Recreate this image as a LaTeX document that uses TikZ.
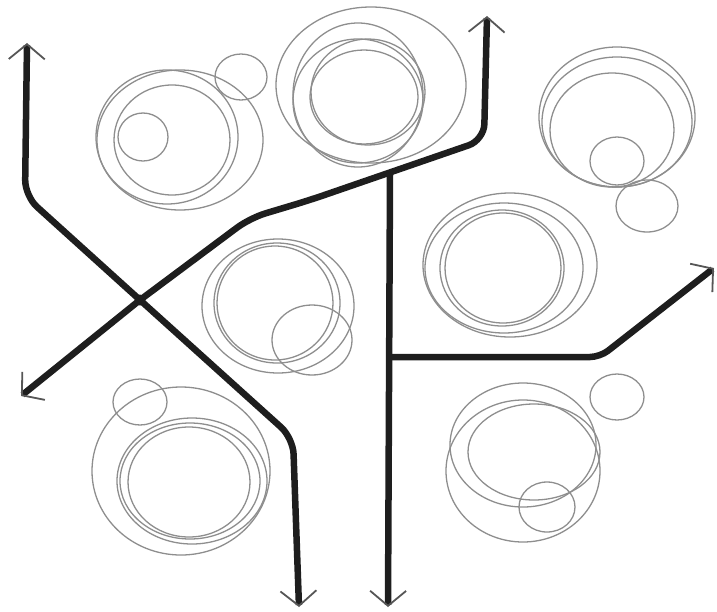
\documentclass[tikz,border=0pt]{standalone}
\usetikzlibrary{arrows.meta}
\definecolor{ink}{HTML}{1E1E1E}
\definecolor{ring}{HTML}{8E8E8E}
\begin{document}
\begin{tikzpicture}[x=1pt,y=-1pt,
  road/.style={draw=ink,line width=6.5pt,rounded corners=16pt,line cap=butt},
  tipped/.style={-{Straight Barb[length=15pt,width=36pt,line width=1.8pt,color=ink!75]}},
  ringc/.style={draw=ring,line width=1.3pt}]
\useasboundingbox (0,0) rectangle (717,611);
% coordinates
\coordinate (tl) at (27,43);
\coordinate (a1) at (25,196);
\coordinate (J) at (140,300);
\coordinate (a2) at (293,438);
\coordinate (bl) at (299,607);
\coordinate (ll) at (21,396);
\coordinate (b1) at (250,218);
\coordinate (b2) at (310,200);
\coordinate (b3) at (484,140);
\coordinate (tm) at (487,16);
\coordinate (c0) at (390,174);
\coordinate (cb) at (390,357);
\coordinate (br) at (388,607);
\coordinate (c1) at (600,357);
\coordinate (rr) at (714,268);
% roads
\draw[road,tipped] (J) -- (a1) -- (tl);
\draw[road,tipped] (J) -- (a2) -- (bl);
\draw[road,tipped] (J) -- (ll);
\draw[road,tipped] (J) -- (b1) -- (b2) -- (b3) -- (tm);
\draw[road,tipped,rounded corners=0pt] (c0) -- (br);
\draw[road,tipped,rounded corners=10pt] (cb) -- (c1) -- (rr);
\fill[ink] (J) circle (5.5pt);
% cluster top-left
\draw[ringc] (143,137) ellipse [x radius=25,y radius=24];
\draw[ringc] (167,137) ellipse [x radius=71,y radius=67];
\draw[ringc] (180,140) ellipse [x radius=83,y radius=70];
\draw[ringc] (172,140) ellipse [x radius=58,y radius=55];
\draw[ringc] (241,77) ellipse [x radius=26,y radius=23];
% cluster top-middle
\draw[ringc] (371,85) ellipse [x radius=95,y radius=78];
\draw[ringc] (358,95) ellipse [x radius=65,y radius=72];
\draw[ringc] (358,101) ellipse [x radius=65,y radius=62];
\draw[ringc] (368,92) ellipse [x radius=57,y radius=53];
\draw[ringc] (364,97) ellipse [x radius=54,y radius=47];
% cluster top-right
\draw[ringc] (617,117) ellipse [x radius=78,y radius=70];
\draw[ringc] (617,122) ellipse [x radius=75,y radius=65];
\draw[ringc] (612,130) ellipse [x radius=62,y radius=57];
\draw[ringc] (617,161) ellipse [x radius=27,y radius=24];
\draw[ringc] (647,206) ellipse [x radius=31,y radius=26];
% cluster middle-left
\draw[ringc] (278,306) ellipse [x radius=76,y radius=67];
\draw[ringc] (277,303) ellipse [x radius=63,y radius=60];
\draw[ringc] (275,303) ellipse [x radius=58,y radius=57];
\draw[ringc] (312,340) ellipse [x radius=40,y radius=35];
% cluster middle-right
\draw[ringc] (510,265) ellipse [x radius=87,y radius=72];
\draw[ringc] (504,268) ellipse [x radius=79,y radius=65];
\draw[ringc] (502,268) ellipse [x radius=62,y radius=58];
\draw[ringc] (503,268) ellipse [x radius=58,y radius=55];
% cluster bottom-left
\draw[ringc] (140,402) ellipse [x radius=27,y radius=23];
\draw[ringc] (181,471) ellipse [x radius=89,y radius=84];
\draw[ringc] (192,481) ellipse [x radius=75,y radius=63];
\draw[ringc] (190,481) ellipse [x radius=70,y radius=58];
\draw[ringc] (189,482) ellipse [x radius=61,y radius=55];
% cluster bottom-right
\draw[ringc] (617,397) ellipse [x radius=27,y radius=23];
\draw[ringc] (523,471) ellipse [x radius=77,y radius=71];
\draw[ringc] (523,445) ellipse [x radius=73,y radius=62];
\draw[ringc] (534,452) ellipse [x radius=66,y radius=48];
\draw[ringc] (547,507) ellipse [x radius=28,y radius=25];
\end{tikzpicture}
\end{document}
